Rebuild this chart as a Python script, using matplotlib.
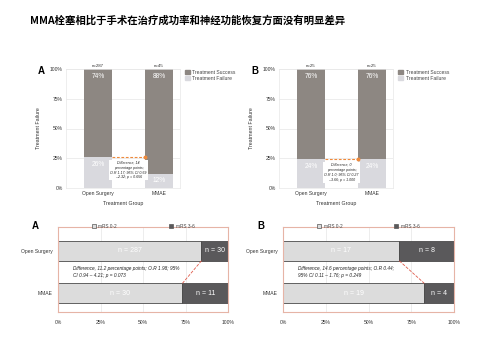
import matplotlib
matplotlib.use("Agg")
import matplotlib.pyplot as plt
from matplotlib.patches import Patch

plt.rcParams["font.family"] = ["Liberation Sans", "DejaVu Sans"]

# ── Data ──────────────────────────────────────────────────────────────────────
TITLE = "MMA栓塞相比于手术在治疗成功率和神经功能恢复方面没有明显差异"

groups = ["Open Surgery", "MMAE"]

# top panels: treatment success / failure (%)
succ_A = [74, 88]
fail_A = [26, 12]
n_A = ["n=287", "n=45"]
note_A = "Difference, 14\npercentage points;\nO.R 1.17; 95% CI 0.59\n– 2.32; p = 0.656"

succ_B = [76, 76]
fail_B = [24, 24]
n_B = ["n=25", "n=25"]
note_B = "Difference, 0\npercentage points;\nO.R 1.0; 95% CI 0.27\n– 3.66; p = 1.000"

# bottom panels: mRS 0-2 / 3-6 (% of bar) and counts
mrs_good_A = [84.4, 73.2]
mrs_n_A = [("n = 287", "n = 30"), ("n = 30", "n = 11")]
mrs_note_A = "Difference, 11.2 percentage points; O.R 1.98; 95%\nCI 0.94 – 4.21; p = 0.073"

mrs_good_B = [68.0, 82.6]
mrs_n_B = [("n = 17", "n = 8"), ("n = 19", "n = 4")]
mrs_note_B = "Difference, 14.6 percentage points; O.R 0.44;\n95% CI 0.11 – 1.76; p = 0.249"

pct_ticks = [0, 25, 50, 75, 100]

# ── Style ─────────────────────────────────────────────────────────────────────
C_SUCC = "#8d8782"
C_FAIL = "#d9d9de"
C_ARROW = "#ee8a3c"
C_GOOD = "#dcdcdc"
C_BAD = "#5a595b"
C_FRAME = "#e6b4a6"
C_GRID = "#e6e6e6"

W, H = 484, 363
fig = plt.figure(figsize=(W / 100, H / 100), dpi=100)


def rect(x0, y0, x1, y1):
    return [x0 / W, 1 - y1 / H, (x1 - x0) / W, (y1 - y0) / H]


fig.text(30 / W, 1 - 20 / H, TITLE, fontsize=7.5, fontweight="bold",
         family=["Noto Sans CJK SC", "DejaVu Sans"], va="center", ha="left")


def top_panel(box, letter, succ, fail, ns, note):
    ax = fig.add_axes(rect(*box))
    x = [0, 1]
    ax.bar(x, fail, width=0.46, color=C_FAIL, zorder=2)
    ax.bar(x, succ, bottom=fail, width=0.46, color=C_SUCC, zorder=2)
    for xi, s, f, n in zip(x, succ, fail, ns):
        ax.text(xi, 100 + 0.5, n, ha="center", va="bottom", fontsize=3.2, color="#333")
        ax.text(xi, 97, f"{s}%", ha="center", va="top", fontsize=4.8, color="white", zorder=3)
        ax.text(xi, f - 3, f"{f}%", ha="center", va="top", fontsize=4.8, color="white", zorder=3)
    ax.set_xlim(-0.525, 1.345)
    ax.set_ylim(0, 100)
    ax.set_yticks(pct_ticks)
    ax.set_yticklabels([f"{t}%" for t in pct_ticks])
    ax.set_xticks(x)
    ax.set_xticklabels(groups)
    ax.tick_params(labelsize=3.6, length=0, pad=2.5, colors="#333")
    ax.yaxis.grid(True, color=C_GRID, lw=0.5, zorder=0)
    for s in ax.spines.values():
        s.set_color("#e8e8e8")
        s.set_linewidth(0.5)
    ax.set_ylabel("Treatment Failure", fontsize=3.8, labelpad=6, color="#333")
    ax.set_xlabel("Treatment Group", fontsize=3.8, labelpad=3, color="#333")
    # difference arrow between failure tops
    y0 = fail[0]
    ax.plot([0.23, 0.77], [y0, y0], ls=(0, (2.5, 1.5)), lw=0.8, color=C_ARROW, zorder=5)
    ax.plot([0.77], [y0], "o", ms=1.8, color=C_ARROW, zorder=5)
    ax.text(0.5, y0 - 3, note, ha="center", va="top", fontsize=2.6, style="italic",
            linespacing=1.3, color="#222", zorder=4,
            bbox=dict(boxstyle="square,pad=0.3", fc="white", ec="none"))
    ax.legend(handles=[Patch(color=C_SUCC, label="Treatment Success"),
                       Patch(color=C_FAIL, label="Treatment Failure")],
              loc="upper left", bbox_to_anchor=(1.0, 1.03), frameon=False,
              fontsize=3.6, handlelength=1.0, handleheight=0.9, labelspacing=0.15,
              handletextpad=0.6, labelcolor="#444")
    fig.text((box[0] - 28) / W, 1 - (box[1] + 2) / H, letter, fontsize=7,
             fontweight="bold", va="center", ha="left")
    return ax


top_panel((66, 69, 180, 188), "A", succ_A, fail_A, n_A, note_A)
top_panel((279, 69, 393, 188), "B", succ_B, fail_B, n_B, note_B)


def bottom_panel(box, letter, good, ns, note, note_x):
    ax = fig.add_axes(rect(*box))
    y = [1, 0]
    bad = [100 - g for g in good]
    ax.barh(y, good, height=0.47, color=C_GOOD, edgecolor="#4a4a4a", lw=0.6, zorder=2)
    ax.barh(y, bad, left=good, height=0.47, color=C_BAD, edgecolor="#4a4a4a", lw=0.6, zorder=2)
    for yi, g, (n1, n2) in zip(y, good, ns):
        ax.text(g / 2, yi, n1, ha="center", va="center", fontsize=5, color="white", zorder=3)
        ax.text(g + (100 - g) / 2, yi, n2, ha="center", va="center", fontsize=5,
                color="white", zorder=3)
    # dashed connector between the splits
    ax.plot([good[0], good[1]], [1 - 0.235, 0 + 0.235], ls="--", lw=0.6,
            color="#e05a4a", zorder=3)
    ax.text(note_x, 0.5, note, ha="left", va="center", fontsize=3.4, style="italic",
            linespacing=1.4, color="#222")
    ax.set_xlim(0, 100)
    ax.set_ylim(-0.44, 1.56)
    ax.set_xticks(pct_ticks)
    ax.set_xticklabels([f"{t}%" for t in pct_ticks])
    ax.set_yticks(y)
    ax.set_yticklabels(groups)
    ax.tick_params(labelsize=3.6, length=0, colors="#333")
    ax.tick_params(axis="x", pad=6)
    ax.tick_params(axis="y", pad=4)
    ax.xaxis.grid(True, color=C_GRID, lw=0.5, zorder=0)
    for s in ax.spines.values():
        s.set_color(C_FRAME)
        s.set_linewidth(0.8)
    ax.legend(handles=[Patch(fc=C_GOOD, ec="#555", lw=0.5, label="mRS 0-2"),
                       Patch(fc=C_BAD, ec="#555", lw=0.5, label="mRS 3-6")],
              loc="lower center", bbox_to_anchor=(0.5, 0.93), ncol=2, frameon=False,
              fontsize=3.4, handlelength=0.8, handleheight=0.8, columnspacing=11,
              handletextpad=0.6, labelcolor="#444")
    fig.text((box[0] - 26) / W, 1 - (box[1] - 1) / H, letter, fontsize=7,
             fontweight="bold", va="center", ha="left")
    return ax


bottom_panel((58, 227, 228, 312), "A", mrs_good_A, mrs_n_A, mrs_note_A, 9)
bottom_panel((283, 227, 454, 312), "B", mrs_good_B, mrs_n_B, mrs_note_B, 9)

fig.savefig("out.png", dpi=100)
